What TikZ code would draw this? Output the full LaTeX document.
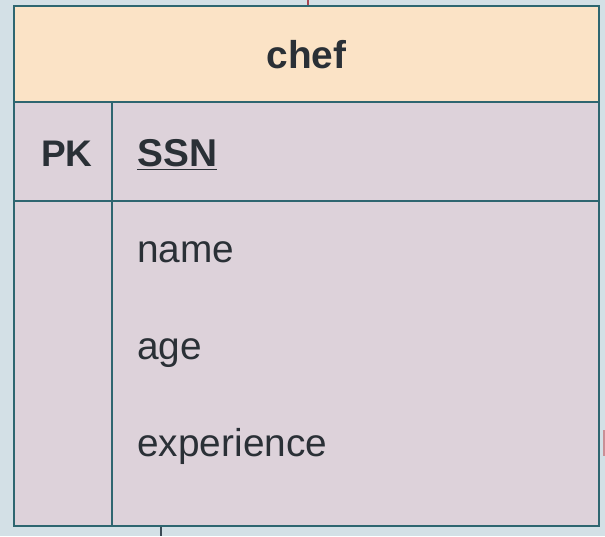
\documentclass[tikz,border=0pt]{standalone}
\usepackage{fontspec}
\setmainfont{Liberation Sans}
\usetikzlibrary{positioning}
\usepackage{xcolor}
\definecolor{tableline}{HTML}{2E6670}
\definecolor{headfill}{HTML}{FBE3C6}
\definecolor{bodyfill}{HTML}{DDD2DA}
\definecolor{paper}{HTML}{D3E0E6}
\definecolor{inktext}{HTML}{2A3036}
\definecolor{linkred}{HTML}{A84450}
\definecolor{linkdark}{HTML}{3A4A55}
\tikzset{%
	every cell/.style={
		rectangle,
		draw=tableline,
		line width=1.25pt,
		inner sep=0pt
	},
	cell head/.style={fill=headfill, minimum width=292.5pt, minimum height=48pt},
	cell key/.style={fill=bodyfill, minimum width=49pt},
	cell field/.style={fill=bodyfill, minimum width=243.5pt},
	attr/.style={anchor=base west, inner sep=0pt, text=inktext, font=\fontsize{19.4}{23}\selectfont},
}

\begin{document}
\begin{tikzpicture}[x=0.5pt, y=-0.5pt]
			
			\fill [paper] (0,0) rectangle (605,536);
			\useasboundingbox (0,0) rectangle (605,536);
			
			% key column and field column
			\node [every cell, cell key, minimum height=49.5pt] (pk-key) at (63,151.5) {};
			\node [every cell, cell field, minimum height=49.5pt] (pk-field) at (355.5,151.5) {};
			\node [every cell, cell key, minimum height=162.5pt] (key-body) at (63,363.5) {};
			\node [every cell, cell field, minimum height=162.5pt] (field-body) at (355.5,363.5) {};
			\node [every cell, cell head] (chef) at (306.5,54) {};
			
			\node [attr, anchor=base, font=\fontsize{19.4}{23}\selectfont\bfseries] (chef-label) at (306.5,68) {chef};
			\node [attr, anchor=base, font=\fontsize{18.5}{22}\selectfont\bfseries] (pk-label) at (67,166) {PK};
			\node [attr, font=\fontsize{19.4}{23}\selectfont\bfseries] (ssn) at (137,166) {\underline{SSN}};
			
			\foreach \a [count=\i] in {name,age,experience}
			\node [attr] (attr-\i) at (137,165+\i*97) {\a};
			
			% stubs of the links
			\coordinate (top-end) at (308,0);
			\coordinate (bottom-end) at (161,536);
			\coordinate (right-top) at (603.5,430);
			\coordinate (right-end) at (603.5,456);
			\draw [linkred, line width=1pt] (top-end) -- (chef.north -| top-end);
			\draw [linkdark, line width=1pt] (key-body.south -| bottom-end) -- (bottom-end);
			\draw [linkred!60, line width=1pt] (right-top) -- (right-end);
			
		\end{tikzpicture}
\end{document}
